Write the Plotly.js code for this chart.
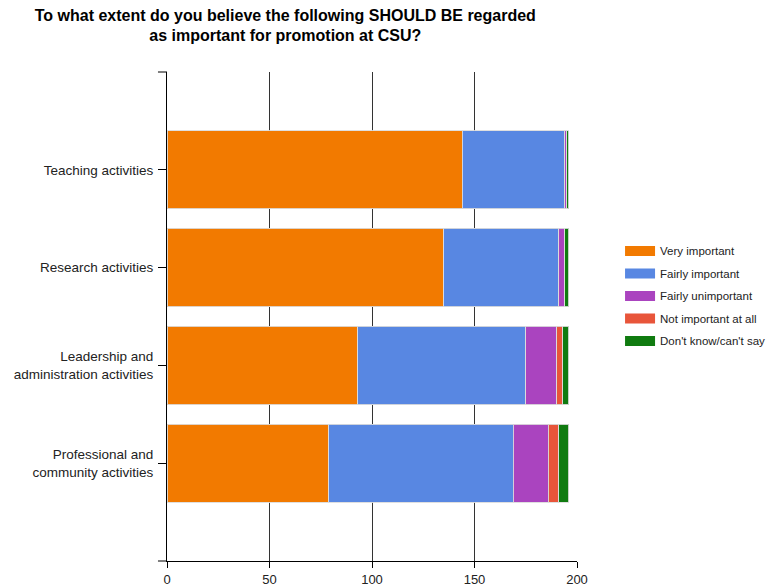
<!DOCTYPE html>
<html><head><meta charset="utf-8">
<script src="https://cdn.plot.ly/plotly-3.0.1.min.js"></script>
<style>html,body{margin:0;padding:0;background:#fff}</style>
</head><body>
<div id="chart" style="width:767px;height:586px"></div>
<script>
const categories = ["Teaching activities", "Research activities", "Leadership and<br>administration activities", "Professional and<br>community activities"];
const seriesNames = ["Very important", "Fairly important", "Fairly unimportant", "Not important at all", "Don't know/can't say"];
const veryImportant = [144, 135, 93, 79];
const fairlyImportant = [50, 56, 82, 90];
const fairlyUnimportant = [1, 3, 15, 17];
const notImportant = [0, 0, 3, 5];
const dontKnow = [1, 2, 3, 5];
const xTicks = [0, 50, 100, 150, 200];
const colors = ["#F27A00", "#5887E2", "#AA44BF", "#E8553A", "#107B10"];

const seriesValues = [veryImportant, fairlyImportant, fairlyUnimportant, notImportant, dontKnow];
const traces = seriesValues.map((vals, i) => ({
  type: "bar", orientation: "h",
  name: seriesNames[i], x: vals, y: categories, showlegend: false,
  marker: {color: colors[i], line: {color: "rgba(220,220,220,0.9)", width: 1}},
  hoverinfo: "x+name"
}));
// legend entries with wide swatches
seriesNames.forEach((n, i) => traces.push({
  type: "scatter", mode: "lines", name: n, x: [null], y: [null],
  legendgroup: "g" + i, line: {color: colors[i], width: 10}, hoverinfo: "skip"
}));

const layout = {
  width: 767, height: 586,
  margin: {l: 167, r: 190, t: 72, b: 25, autoexpand: false},
  barmode: "stack", bargap: 0.2,
  paper_bgcolor: "#fff", plot_bgcolor: "#fff",
  font: {family: "Liberation Sans, Arial, sans-serif", size: 12, color: "#222"},
  title: {text: "<b>To what extent do you believe the following SHOULD BE regarded<br>as important for promotion at CSU?</b>",
          font: {size: 16, color: "#000"}, x: 0.372, xanchor: "center", y: 0.965, yanchor: "top"},
  xaxis: {range: [0, 200], tickvals: xTicks, showgrid: true, gridcolor: "#333", gridwidth: 1,
          zeroline: false, showline: true, linecolor: "#000", linewidth: 1,
          ticks: "outside", ticklen: 6, tickcolor: "#000", tickfont: {size: 13, color: "#222"}, fixedrange: true},
  yaxis: {type: "category", categoryorder: "array", categoryarray: categories, range: [4, -1],
          showgrid: false, zeroline: false, showline: true, linecolor: "#000", linewidth: 1,
          ticks: "outside", ticklen: 8, tickcolor: "#000", ticklabelstandoff: 2,
          tickfont: {size: 13.5, color: "#222"}, fixedrange: true},
  legend: {x: 1.105, xanchor: "left", y: 0.542, yanchor: "middle", traceorder: "grouped",
           font: {size: 11.5, color: "#222"}, itemwidth: 30, tracegroupgap: 3.5, bgcolor: "rgba(0,0,0,0)"},
  shapes: [
    {type: "line", xref: "paper", yref: "paper", x0: -0.022, x1: 0, y0: 1, y1: 1, line: {color: "#000", width: 1}},
    {type: "line", xref: "paper", yref: "paper", x0: -0.022, x1: 0, y0: 0, y1: 0, line: {color: "#000", width: 1}}
  ]
};
Plotly.newPlot("chart", traces, layout, {displayModeBar: false, staticPlot: true});
</script>
</body></html>
